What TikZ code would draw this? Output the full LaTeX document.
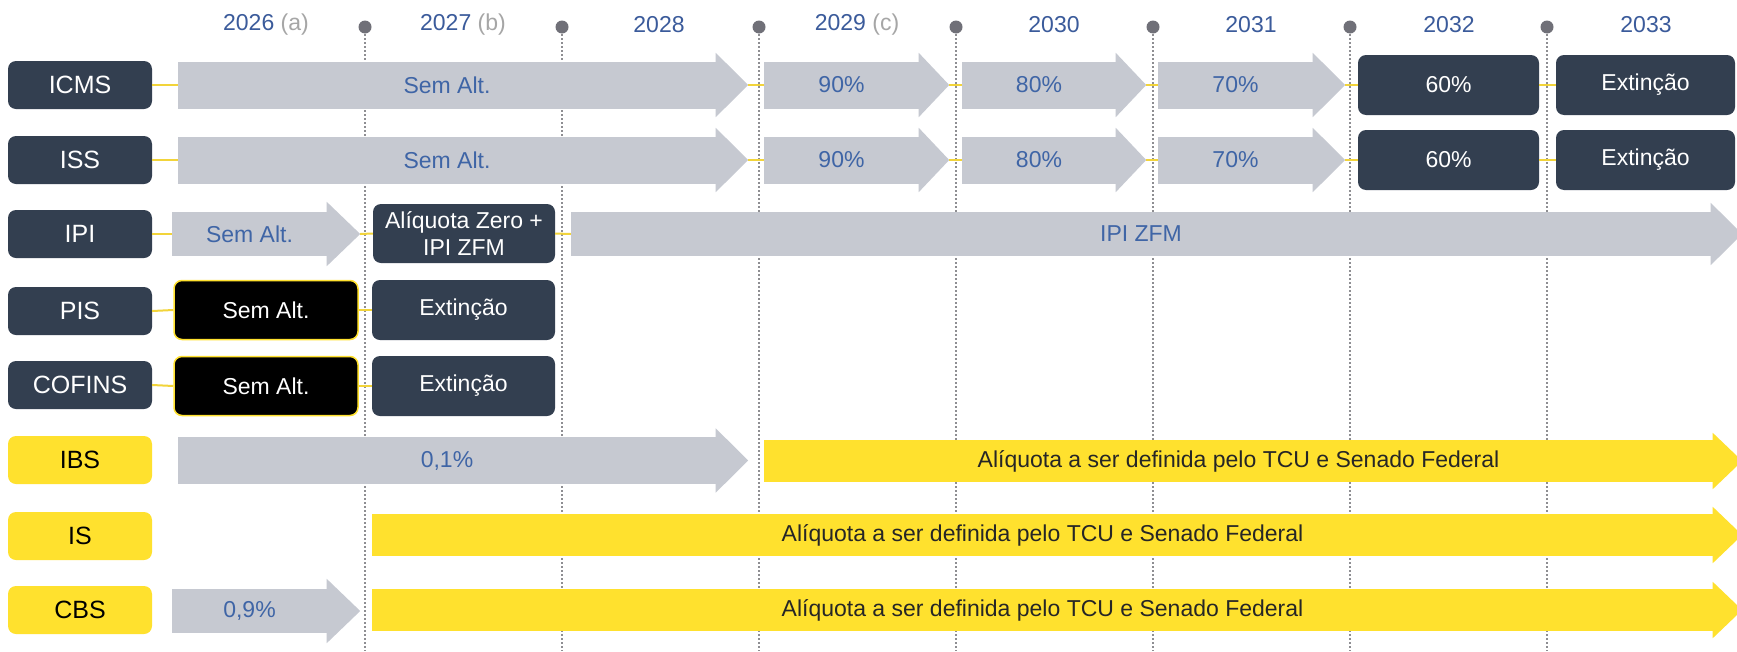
\documentclass[tikz,border=0pt]{standalone}
\usepackage{fontspec}
\setmainfont{Liberation Sans}
\usetikzlibrary{calc}

\definecolor{escuro}{HTML}{333F50}
\definecolor{cinza}{HTML}{C6C9D1}
\definecolor{azul}{HTML}{3F65A6}
\definecolor{amarelo}{HTML}{FFE12E}
\definecolor{ano}{HTML}{3B5B9B}
\definecolor{parenteses}{HTML}{A6A6A6}
\definecolor{guia}{HTML}{8E8E92}
\definecolor{marco}{HTML}{707078}
\definecolor{liga}{HTML}{F2D43A}
\definecolor{textofaixa}{HTML}{262626}

% head of an arrow, glued to the right side of a body node
\newcommand{\ponta}[4]{%
  \fill[#1] ($(#2.north east)+(-0.5,0)$) -- ++(0,-#3) -- ($(#2.east)+(#4,0)$) coordinate (#2-p)
    -- ($(#2.south east)+(-0.5,#3)$) -- cycle;}

\begin{document}
\begin{tikzpicture}[x=1pt,y=-1pt,
  every node/.style={inner sep=0pt, font=\fontsize{23}{27}\selectfont},
  rotulo/.style={rounded corners=8pt, minimum width=144pt, minimum height=48pt, font=\fontsize{25}{28}\selectfont},
  escuro/.style={fill=escuro, text=white},
  amarelo/.style={fill=amarelo, text=black},
  corpo/.style={fill=cinza, text=azul, minimum height=47pt},
  caixa/.style={rounded corners=8pt, fill=escuro, text=white, minimum height=60pt},
  preto/.style={rounded corners=8pt, fill=black, text=white, draw=amarelo, line width=1.5pt, minimum height=59pt},
  faixa/.style={fill=amarelo, text=textofaixa, minimum height=42pt},
  liga/.style={draw=liga, line width=2pt},
  guia/.style={draw=guia, line width=1.5pt, dash pattern=on 1.5pt off 2.5pt}]
\fill[white] (0,0) rectangle (1737,651);
\useasboundingbox (0,0) rectangle (1737,651);

% year separators
\foreach \x in {365,562,759,956,1153,1350,1547}{
  \draw[guia] (\x,34) -- (\x,651);
  \fill[marco] (\x,27) circle (6.5);
}

% years
\node[text=ano] (a26) at (266,25) {2026 \textcolor{parenteses}{(a)}};
\node[text=ano] (a27) at (463,25) {2027 \textcolor{parenteses}{(b)}};
\node[text=ano] (a28) at (659,25) {2028};
\node[text=ano] (a29) at (857,25) {2029 \textcolor{parenteses}{(c)}};
\node[text=ano] (a30) at (1054,25) {2030};
\node[text=ano] (a31) at (1251,25) {2031};
\node[text=ano] (a32) at (1449,25) {2032};
\node[text=ano] (a33) at (1646,25) {2033};

% taxes
\node[rotulo, escuro] (icms) at (80,85) {ICMS};
\node[rotulo, escuro] (iss) at (80,160) {ISS};
\node[rotulo, escuro] (ipi) at (80,234) {IPI};
\node[rotulo, escuro] (pis) at (80,311) {PIS};
\node[rotulo, escuro] (cofins) at (80,385) {COFINS};
\node[rotulo, amarelo] (ibs) at (80,460) {IBS};
\node[rotulo, amarelo] (is) at (80,536) {IS};
\node[rotulo, amarelo] (cbs) at (80,610) {CBS};

% ICMS
\node[corpo, minimum width=538pt] (icms1) at (447,85) {Sem Alt.};
\ponta{cinza}{icms1}{8.5}{32}
\node[corpo, minimum width=155pt] (icms2) at (841.5,85) {90\%};
\ponta{cinza}{icms2}{8.5}{30}
\node[corpo, minimum width=154pt] (icms3) at (1039,85) {80\%};
\ponta{cinza}{icms3}{8.5}{30}
\node[corpo, minimum width=155pt] (icms4) at (1235.5,85) {70\%};
\ponta{cinza}{icms4}{8.5}{32}
\node[caixa, minimum width=181pt] (icms5) at (1448.5,85) {60\%};
\node[caixa, minimum width=179pt] (icms6) at (1645.5,85) {Extinção};
\draw[liga] (icms.east) -- (icms1.west);
\draw[liga] (icms1-p) -- (icms2.west);
\draw[liga] (icms2-p) -- (icms3.west);
\draw[liga] (icms3-p) -- (icms4.west);
\draw[liga] (icms4-p) -- (icms5.west);
\draw[liga] (icms5.east) -- (icms6.west);

% ISS
\node[corpo, minimum width=538pt] (iss1) at (447,160) {Sem Alt.};
\ponta{cinza}{iss1}{8.5}{32}
\node[corpo, minimum width=155pt] (iss2) at (841.5,160) {90\%};
\ponta{cinza}{iss2}{8.5}{30}
\node[corpo, minimum width=154pt] (iss3) at (1039,160) {80\%};
\ponta{cinza}{iss3}{8.5}{30}
\node[corpo, minimum width=155pt] (iss4) at (1235.5,160) {70\%};
\ponta{cinza}{iss4}{8.5}{32}
\node[caixa, minimum width=181pt] (iss5) at (1448.5,160) {60\%};
\node[caixa, minimum width=179pt] (iss6) at (1645.5,160) {Extinção};
\draw[liga] (iss.east) -- (iss1.west);
\draw[liga] (iss1-p) -- (iss2.west);
\draw[liga] (iss2-p) -- (iss3.west);
\draw[liga] (iss3-p) -- (iss4.west);
\draw[liga] (iss4-p) -- (iss5.west);
\draw[liga] (iss5.east) -- (iss6.west);

% IPI
\node[corpo, minimum width=155pt, minimum height=44pt] (ipi1) at (249.5,234) {Sem Alt.};
\ponta{cinza}{ipi1}{10}{33}
\node[caixa, minimum width=182pt, minimum height=59pt, align=center] (ipi2) at (464,233.5) {Alíquota Zero +\\IPI ZFM};
\node[corpo, minimum width=1140pt, minimum height=44pt] (ipi3) at (1141,234) {IPI ZFM};
\ponta{cinza}{ipi3}{9}{31}
\draw[liga] (ipi.east) -- (ipi1.west);
\draw[liga] (ipi1-p) -- (ipi2.west);
\draw[liga] (ipi2.east) -- (ipi3.west);

% PIS
\node[preto, minimum width=184pt] (pis1) at (266,310) {Sem Alt.};
\node[caixa, minimum width=183pt] (pis2) at (463.5,310) {Extinção};
\draw[liga] (pis.east) -- (pis1.west);
\draw[liga] (pis1.east) -- (pis2.west);

% COFINS
\node[preto, minimum width=184pt] (cofins1) at (266,386) {Sem Alt.};
\node[caixa, minimum width=183pt] (cofins2) at (463.5,386) {Extinção};
\draw[liga] (cofins.east) -- (cofins1.west);
\draw[liga] (cofins1.east) -- (cofins2.west);

% IBS
\node[corpo, minimum width=538pt] (ibs1) at (447,460.5) {0,1\%};
\ponta{cinza}{ibs1}{8.5}{32}
\node[faixa, minimum width=949pt] (ibs2) at (1238.5,461) {Alíquota a ser definida pelo TCU e Senado Federal};
\ponta{amarelo}{ibs2}{7}{29}

% IS
\node[faixa, minimum width=1341pt] (is1) at (1042.5,535) {Alíquota a ser definida pelo TCU e Senado Federal};
\ponta{amarelo}{is1}{7}{29}

% CBS
\node[corpo, minimum width=155pt, minimum height=44pt] (cbs1) at (249.5,611) {0,9\%};
\ponta{cinza}{cbs1}{10}{33}
\node[faixa, minimum width=1341pt] (cbs2) at (1042.5,610) {Alíquota a ser definida pelo TCU e Senado Federal};
\ponta{amarelo}{cbs2}{7}{29}
\end{tikzpicture}
\end{document}
